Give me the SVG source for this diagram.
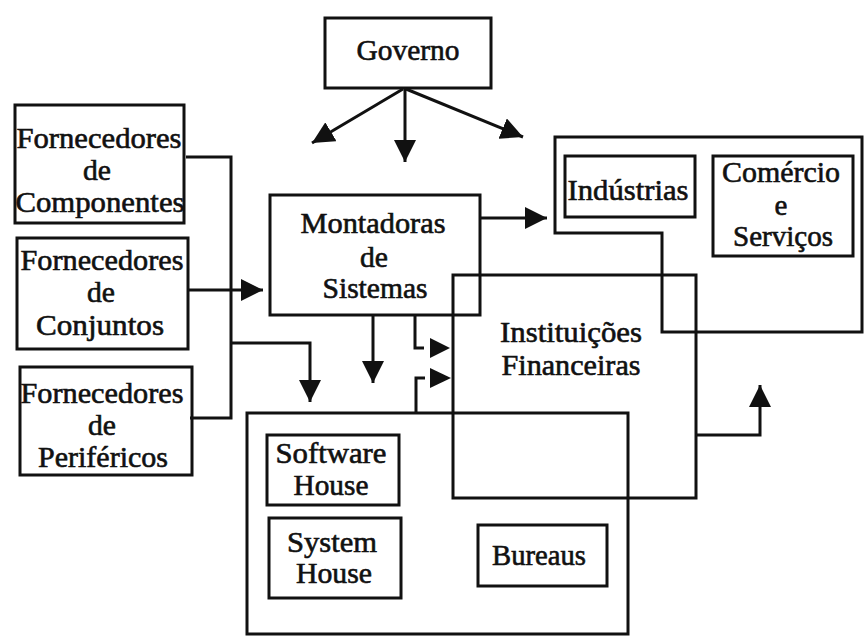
<svg xmlns="http://www.w3.org/2000/svg" width="865" height="637" viewBox="0 0 865 637">
<style>
.b{fill:none;stroke:#111;stroke-width:3;stroke-linejoin:miter}
.c{fill:none;stroke:#111;stroke-width:3}
.h{fill:#111;stroke:none}
text{font-family:"Liberation Serif","Times New Roman",serif;font-size:29px;fill:#111;stroke:#111;stroke-width:0.6;text-anchor:middle}
</style>
<defs>
<marker id="ah" markerUnits="userSpaceOnUse" markerWidth="22" markerHeight="22" refX="20" refY="10" orient="auto" viewBox="0 0 20 20">
<path d="M0,0 L20,10 L0,20 z" fill="#111"/>
</marker>
</defs>
<rect width="865" height="637" fill="#fff"/>
<g id="governo">
<rect class="b" x="325" y="18" width="166" height="70"/>
<text x="408" y="60" textLength="103" lengthAdjust="spacingAndGlyphs">Governo</text>
</g>
<g id="fornecedores-componentes">
<rect class="b" x="15" y="105" width="169" height="118"/>
<text x="99" y="148" textLength="165" lengthAdjust="spacingAndGlyphs">Fornecedores</text>
<text x="97" y="180" textLength="28" lengthAdjust="spacingAndGlyphs">de</text>
<text x="100" y="212" textLength="169" lengthAdjust="spacingAndGlyphs">Componentes</text>
</g>
<g id="fornecedores-conjuntos">
<rect class="b" x="17" y="238" width="171" height="111"/>
<text x="102" y="270" textLength="163" lengthAdjust="spacingAndGlyphs">Fornecedores</text>
<text x="101" y="302" textLength="28" lengthAdjust="spacingAndGlyphs">de</text>
<text x="100" y="335" textLength="128" lengthAdjust="spacingAndGlyphs">Conjuntos</text>
</g>
<g id="fornecedores-perifericos">
<rect class="b" x="20" y="367" width="172" height="108"/>
<text x="102" y="403" textLength="163" lengthAdjust="spacingAndGlyphs">Fornecedores</text>
<text x="102" y="435" textLength="28" lengthAdjust="spacingAndGlyphs">de</text>
<text x="103" y="467" textLength="130" lengthAdjust="spacingAndGlyphs">Periféricos</text>
</g>
<g id="montadoras">
<rect class="b" x="270" y="195" width="210" height="120"/>
<text x="373" y="233" textLength="145" lengthAdjust="spacingAndGlyphs">Montadoras</text>
<text x="374" y="267" textLength="28" lengthAdjust="spacingAndGlyphs">de</text>
<text x="375" y="298" textLength="105" lengthAdjust="spacingAndGlyphs">Sistemas</text>
</g>
<g id="usuarios">
<path class="b" d="M555,137 H862 V332 H662 V233 H555 Z"/>
</g>
<g id="industrias">
<rect class="b" x="565" y="156" width="130" height="61"/>
<text x="628" y="200" textLength="121" lengthAdjust="spacingAndGlyphs">Indústrias</text>
</g>
<g id="comercio">
<rect class="b" x="713" y="156" width="140" height="100"/>
<text x="781" y="182" textLength="118" lengthAdjust="spacingAndGlyphs">Comércio</text>
<text x="781" y="215">e</text>
<text x="783" y="246" textLength="100" lengthAdjust="spacingAndGlyphs">Serviços</text>
</g>
<g id="instituicoes">
<rect class="b" x="453" y="275" width="243" height="223"/>
<text x="571" y="342" textLength="142" lengthAdjust="spacingAndGlyphs">Instituições</text>
<text x="571" y="375" textLength="139" lengthAdjust="spacingAndGlyphs">Financeiras</text>
</g>
<g id="servicos">
<rect class="b" x="247" y="413" width="381" height="221"/>
</g>
<g id="software-house">
<rect class="b" x="267" y="435" width="132" height="70"/>
<text x="331" y="463" textLength="111" lengthAdjust="spacingAndGlyphs">Software</text>
<text x="331" y="495" textLength="75" lengthAdjust="spacingAndGlyphs">House</text>
</g>
<g id="system-house">
<rect class="b" x="269" y="518" width="132" height="80"/>
<text x="332" y="552" textLength="90" lengthAdjust="spacingAndGlyphs">System</text>
<text x="334" y="583" textLength="76" lengthAdjust="spacingAndGlyphs">House</text>
</g>
<g id="bureaus">
<rect class="b" x="478" y="525" width="129" height="61"/>
<text x="539" y="565" textLength="94" lengthAdjust="spacingAndGlyphs">Bureaus</text>
</g>
<g id="connectors">
<line class="c" x1="403" y1="89" x2="312" y2="143" marker-end="url(#ah)"/>
<line class="c" x1="405" y1="89" x2="405" y2="162" marker-end="url(#ah)"/>
<line class="c" x1="406" y1="89" x2="523" y2="137" marker-end="url(#ah)"/>
<path class="c" d="M186,157 H231 V418 H190"/>
<path class="c" d="M231,343 H310 V402" marker-end="url(#ah)"/>
<path class="c" d="M188,290 H263" marker-end="url(#ah)"/>
<path class="c" d="M480,218 H547" marker-end="url(#ah)"/>
<path class="c" d="M373,315 V383" marker-end="url(#ah)"/>
<path class="c" d="M415,315 V348 H424"/>
<polygon class="h" points="430,338 450,348 430,358"/>
<path class="c" d="M416,413 V378 H425"/>
<polygon class="h" points="430,368 451,378 430,388"/>
<path class="c" d="M696,435 H760 V385" marker-end="url(#ah)"/>
</g>
</svg>
